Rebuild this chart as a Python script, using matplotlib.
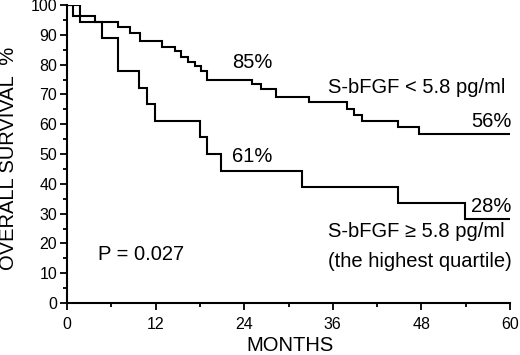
import matplotlib
matplotlib.use("Agg")
import matplotlib.pyplot as plt
from matplotlib.ticker import MultipleLocator

plt.rcParams['font.family'] = ['Liberation Sans', 'DejaVu Sans']

# Low S-bFGF group (< 5.8 pg/ml): event times (months) and survival after each step (%)
low_times = [0.8, 3.8, 6.9, 8.6, 9.9, 12.8, 14.6, 15.5, 16.4, 17.3, 18.1, 18.9,
             25.0, 26.3, 28.3, 32.8, 37.9, 38.9, 39.9, 44.8, 47.7]
low_surv = [96.3, 94.4, 92.6, 90.7, 88.0, 85.9, 84.5, 82.6, 81.0, 79.5, 77.8, 75.0,
            73.4, 71.8, 69.1, 67.3, 65.2, 63.2, 61.0, 59.0, 56.7]

# High S-bFGF group (>= 5.8 pg/ml, highest quartile)
high_times = [1.8, 4.8, 6.9, 9.8, 10.8, 11.9, 18.0, 18.9, 20.9, 31.8, 44.8, 53.9]
high_surv = [94.4, 88.9, 77.8, 72.2, 66.7, 61.1, 55.6, 50.0, 44.4, 38.9, 33.7, 28.1]

follow_up = 60
x_ticks = [0, 12, 24, 36, 48, 60]
y_ticks = [0, 10, 20, 30, 40, 50, 60, 70, 80, 90, 100]

fig = plt.figure(figsize=(5.2, 3.55), dpi=100)
ax = fig.add_axes([67/520, 52/355, 443/520, 298/355])

def km(times, surv):
    t = [0] + list(times) + [follow_up]
    s = [100] + list(surv) + [surv[-1]]
    return t, s

for times, surv in [(low_times, low_surv), (high_times, high_surv)]:
    t, s = km(times, surv)
    ax.plot(t, s, drawstyle='steps-post', color='black', lw=1.5, solid_joinstyle='miter')

ax.set_xlim(0, 60)
ax.set_ylim(0, 100)
ax.set_xticks(x_ticks)
ax.set_yticks(y_ticks)
ax.xaxis.set_minor_locator(MultipleLocator(6))
ax.yaxis.set_minor_locator(MultipleLocator(5))
for side in ['top', 'right']:
    ax.spines[side].set_visible(False)
for side in ['left', 'bottom']:
    ax.spines[side].set_linewidth(1.5)
ax.tick_params(axis='both', which='major', direction='out', length=5, width=1.3,
               labelsize=11.5)
ax.tick_params(axis='both', which='minor', direction='out', length=3, width=1.3)
ax.tick_params(axis='y', which='major', pad=2)
ax.tick_params(axis='x', which='major', pad=5)

ax.set_xlabel('MONTHS', fontsize=14.5)
ax.xaxis.set_label_coords(0.504, -0.112)
ax.set_ylabel('OVERALL SURVIVAL  %', fontsize=14.5, va='center')
ax.yaxis.set_label_coords(-0.132, 0.485)

fs = 14.5
ax.text(22.3, 78.9, '85%', fontsize=fs, va='baseline', ha='left')
ax.text(35.4, 70.5, 'S-bFGF < 5.8 pg/ml', fontsize=fs, va='baseline', ha='left')
ax.text(60.2, 59.2, '56%', fontsize=fs, va='baseline', ha='right')
ax.text(22.3, 47.4, '61%', fontsize=fs, va='baseline', ha='left')
ax.text(60.2, 30.6, '28%', fontsize=fs, va='baseline', ha='right')
ax.text(35.4, 22.2, 'S-bFGF \u2265 5.8 pg/ml', fontsize=fs, va='baseline', ha='left')
ax.text(35.4, 12.2, '(the highest quartile)', fontsize=fs, va='baseline', ha='left')
ax.text(4.2, 14.4, 'P = 0.027', fontsize=fs, va='baseline', ha='left')

fig.savefig('out.png', dpi=100)
